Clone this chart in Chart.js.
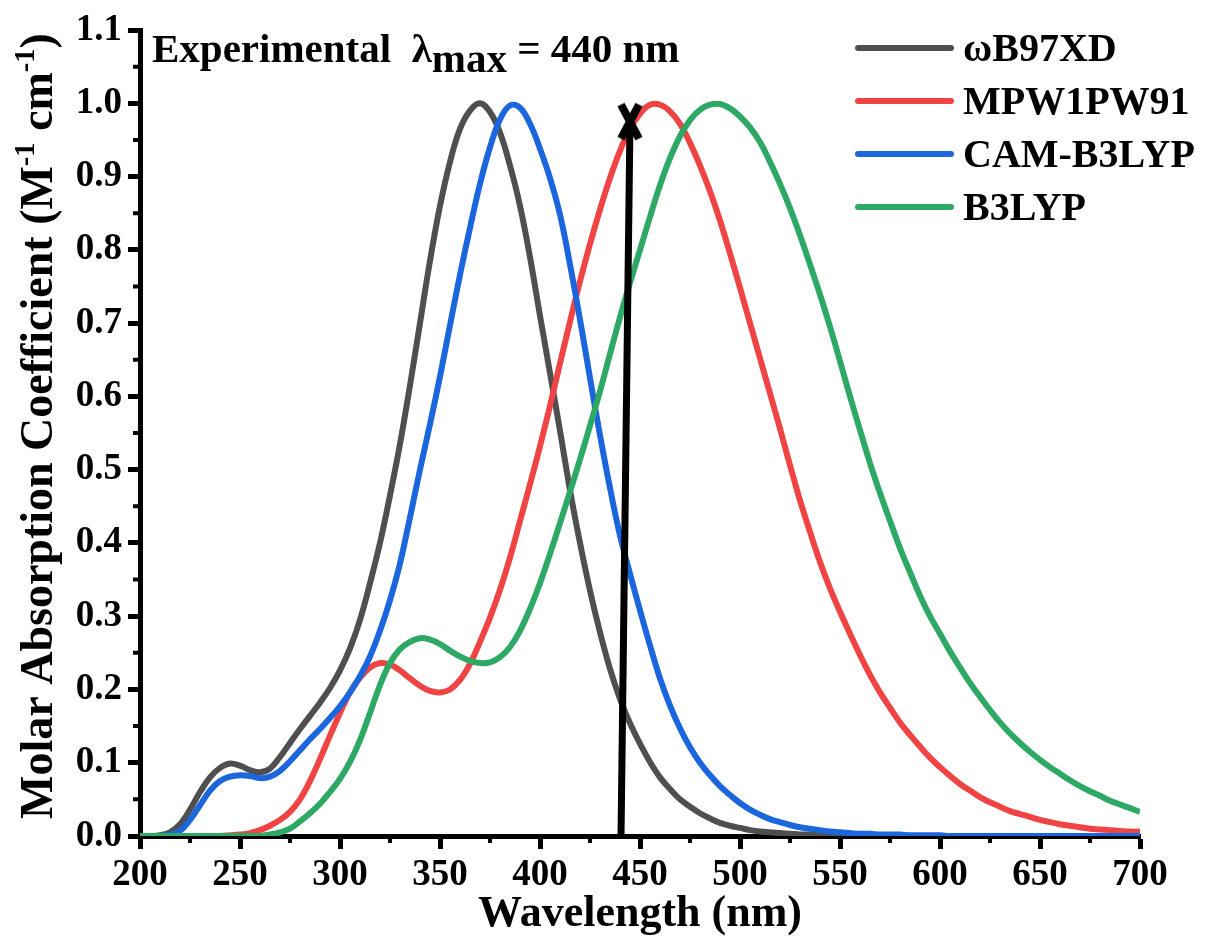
<!DOCTYPE html>
<html lang="en">
  <head>
    <meta charset="UTF-8" />
    <title>Absorption spectra</title>
    <script src="https://cdn.jsdelivr.net/npm/chart.js"></script>
    <style>
      body { margin: 0; background: #fff; }
    </style>
  </head>
  <body>
    <canvas id="spectra" width="1212" height="938"></canvas>

    <script>
      // wavelengths (nm), 5 nm steps
      const wavelengths = [
        200, 205, 210, 215, 220, 225, 230, 235, 240, 245,
        250, 255, 260, 265, 270, 275, 280, 285, 290, 295,
        300, 305, 310, 315, 320, 325, 330, 335, 340, 345,
        350, 355, 360, 365, 370, 375, 380, 385, 390, 395,
        400, 405, 410, 415, 420, 425, 430, 435, 440, 445,
        450, 455, 460, 465, 470, 475, 480, 485, 490, 495,
        500, 505, 510, 515, 520, 525, 530, 535, 540, 545,
        550, 555, 560, 565, 570, 575, 580, 585, 590, 595,
        600, 605, 610, 615, 620, 625, 630, 635, 640, 645,
        650, 655, 660, 665, 670, 675, 680, 685, 690, 695,
        700
      ];

      const wb97xd = [
        0, 0, 0.001, 0.005, 0.016, 0.036, 0.06, 0.08, 0.093, 0.099,
        0.096, 0.09, 0.087, 0.092, 0.108, 0.127, 0.146, 0.164, 0.182, 0.202,
        0.226, 0.256, 0.295, 0.345, 0.4, 0.465, 0.535, 0.615, 0.7, 0.785,
        0.86, 0.92, 0.965, 0.99, 1.0, 0.988, 0.96, 0.915, 0.86, 0.79,
        0.71, 0.632, 0.553, 0.472, 0.4, 0.335, 0.278, 0.228, 0.187, 0.154,
        0.126, 0.101, 0.08, 0.064, 0.05, 0.04, 0.031, 0.024, 0.018, 0.014,
        0.011, 0.008, 0.006, 0.005, 0.004, 0.003, 0.002, 0.002, 0.001, 0.001,
        0.001, 0, 0, 0, 0, 0, 0, 0, 0, 0,
        0, 0, 0, 0, 0, 0, 0, 0, 0, 0,
        0, 0, 0, 0, 0, 0, 0, 0, 0, 0,
        0
      ];

      const mpw1pw91 = [
        0, 0, 0, 0, 0, 0, 0, 0, 0, 0.001,
        0.002, 0.004, 0.008, 0.014, 0.022, 0.033, 0.05, 0.075, 0.105, 0.137,
        0.168, 0.196, 0.216, 0.23, 0.236, 0.234, 0.226, 0.215, 0.205, 0.198,
        0.196, 0.2, 0.213, 0.235, 0.265, 0.298, 0.336, 0.38, 0.43, 0.48,
        0.532, 0.587, 0.645, 0.702, 0.757, 0.808, 0.855, 0.898, 0.935, 0.965,
        0.986, 0.998, 0.998, 0.989, 0.972, 0.946, 0.915, 0.88, 0.84, 0.795,
        0.748, 0.7, 0.652, 0.604, 0.556, 0.506, 0.458, 0.415, 0.374, 0.338,
        0.306, 0.276, 0.247, 0.22, 0.196, 0.175, 0.155, 0.138, 0.122, 0.107,
        0.094, 0.082, 0.071, 0.062, 0.053, 0.046, 0.04, 0.034, 0.03, 0.026,
        0.022, 0.019, 0.016, 0.014, 0.012, 0.01, 0.009, 0.008, 0.007, 0.006,
        0.006
      ];

      const camB3lyp = [
        0, 0, 0, 0.002, 0.007, 0.022, 0.042, 0.062, 0.075, 0.081,
        0.083, 0.082, 0.079, 0.081, 0.089, 0.102, 0.117, 0.132, 0.146, 0.161,
        0.177, 0.196, 0.218, 0.245, 0.28, 0.322, 0.372, 0.435, 0.5, 0.562,
        0.627, 0.697, 0.766, 0.83, 0.89, 0.94, 0.978, 0.997, 0.994, 0.972,
        0.938, 0.898, 0.848, 0.78, 0.705, 0.625, 0.547, 0.475, 0.41, 0.358,
        0.308, 0.26, 0.215, 0.178, 0.147, 0.121, 0.1, 0.083, 0.068, 0.056,
        0.045, 0.036, 0.029, 0.023, 0.019, 0.015, 0.012, 0.01, 0.008, 0.006,
        0.005, 0.004, 0.003, 0.003, 0.002, 0.002, 0.002, 0.001, 0.001, 0.001,
        0.001, 0, 0, 0, 0, 0, 0, 0, 0, 0,
        0, 0, 0, 0, 0, 0, 0, 0, 0, 0,
        0
      ];

      const b3lyp = [
        0, 0, 0, 0, 0, 0, 0, 0, 0, 0,
        0, 0, 0, 0.002, 0.005, 0.01, 0.02, 0.031, 0.044, 0.06,
        0.078, 0.101, 0.131, 0.168, 0.206, 0.236, 0.255, 0.265, 0.27, 0.268,
        0.262, 0.253, 0.245, 0.239, 0.236, 0.237, 0.244, 0.258, 0.28, 0.31,
        0.345, 0.385, 0.427, 0.47, 0.514, 0.56, 0.607, 0.658, 0.708, 0.755,
        0.8, 0.845, 0.888, 0.925, 0.955, 0.977, 0.991, 0.998, 0.999, 0.993,
        0.982, 0.967, 0.947, 0.92, 0.89, 0.857, 0.82, 0.78, 0.739, 0.695,
        0.648, 0.6, 0.554, 0.509, 0.468, 0.43, 0.393, 0.36, 0.328, 0.3,
        0.276, 0.252, 0.23, 0.209, 0.19, 0.172, 0.155, 0.14, 0.127, 0.115,
        0.104, 0.094, 0.085, 0.076, 0.068, 0.061, 0.055, 0.048, 0.043, 0.038,
        0.033
      ];

      // experimental lambda max marker (hand-drawn arrow in the original)
      const arrowX = [440.5, 445];
      const arrowY = [0, 0.975];

      const seriesNames = ["\u03C9B97XD", "MPW1PW91", "CAM-B3LYP", "B3LYP"];
      const seriesColors = ["#4f4f4f", "#f04343", "#1b66dc", "#2ea865"];
      const seriesValues = [wb97xd, mpw1pw91, camB3lyp, b3lyp];

      // minor tick positions
      const xMinorTicks = [225, 275, 325, 375, 425, 475, 525, 575, 625, 675];
      const yMinorTicks = [0.05, 0.15, 0.25, 0.35, 0.45, 0.55, 0.65, 0.75, 0.85, 0.95, 1.05];

      const serif = "'Liberation Serif', 'Times New Roman', serif";

      function toPoints(xs, ys) {
        return xs.map(function (x, i) {
          return { x: x, y: ys[i] };
        });
      }

      // the "X" head of the arrow
      function makeCrossMark() {
        const c = document.createElement("canvas");
        c.width = 28;
        c.height = 40;
        const g = c.getContext("2d");
        g.strokeStyle = "#000";
        g.lineWidth = 8;
        g.beginPath();
        g.moveTo(5, 3);
        g.lineTo(23, 37);
        g.moveTo(23, 3);
        g.lineTo(5, 37);
        g.stroke();
        return c;
      }
      const crossMark = makeCrossMark();

      const datasets = seriesNames.map(function (name, i) {
        return {
          label: name,
          data: toPoints(wavelengths, seriesValues[i]),
          borderColor: seriesColors[i],
          borderWidth: 6,
          pointRadius: 0,
          tension: 0.4,
          fill: false,
          order: 4 - i,
        };
      });

      datasets.push({
        label: "arrow",
        skipLegend: true,
        data: toPoints(arrowX, arrowY),
        borderColor: "#000",
        borderWidth: 7,
        tension: 0,
        pointRadius: [0, 12],
        pointStyle: function (ctx) {
          return ctx.dataIndex === 1 ? crossMark : "circle";
        },
        order: 0,
      });

      // short minor ticks (Chart.js only draws one tick length)
      const minorTicksPlugin = {
        id: "minorTicks",
        afterDraw(chart) {
          const { ctx, chartArea, scales } = chart;
          ctx.save();
          ctx.strokeStyle = "#000";
          ctx.lineWidth = 4;
          ctx.beginPath();
          xMinorTicks.forEach(function (v) {
            const px = scales.x.getPixelForValue(v);
            ctx.moveTo(px, chartArea.bottom);
            ctx.lineTo(px, chartArea.bottom + 7);
          });
          yMinorTicks.forEach(function (v) {
            const py = scales.y.getPixelForValue(v);
            ctx.moveTo(chartArea.left - 7, py);
            ctx.lineTo(chartArea.left, py);
          });
          ctx.stroke();
          ctx.restore();
        },
      };

      // draws a run of text pieces, some as super/subscripts
      function drawRuns(ctx, runs, x, y, size) {
        runs.forEach(function (r) {
          const s = size * (r.scale || 1);
          ctx.font = "bold " + s + "px " + serif;
          ctx.fillText(r.text, x, y + (r.shift || 0) * size);
          x += ctx.measureText(r.text).width;
        });
      }

      function runsWidth(ctx, runs, size) {
        let w = 0;
        runs.forEach(function (r) {
          const s = size * (r.scale || 1);
          ctx.font = "bold " + s + "px " + serif;
          w += ctx.measureText(r.text).width;
        });
        return w;
      }

      // axis titles, annotation and legend
      const textPlugin = {
        id: "texts",
        afterDraw(chart) {
          const { ctx, chartArea } = chart;
          ctx.save();
          ctx.fillStyle = "#000";
          ctx.textBaseline = "alphabetic";
          ctx.textAlign = "left";

          // x title
          ctx.font = "bold 44px " + serif;
          ctx.textAlign = "center";
          ctx.fillText("Wavelength (nm)", (chartArea.left + chartArea.right) / 2, 926);
          ctx.textAlign = "left";

          // y title with superscripts
          const yTitle = [
            { text: "Molar Absorption Coefficient (M" },
            { text: "-1", shift: -0.4, scale: 0.62 },
            { text: " cm" },
            { text: "-1", shift: -0.4, scale: 0.62 },
            { text: ")" },
          ];
          const ySize = 46;
          ctx.save();
          ctx.translate(52, 426);
          ctx.rotate(-Math.PI / 2);
          const w = runsWidth(ctx, yTitle, ySize);
          drawRuns(ctx, yTitle, -w / 2, 0, ySize);
          ctx.restore();

          // annotation, subscript kept near full size like the original
          drawRuns(
            ctx,
            [
              { text: "Experimental  \u03BB" },
              { text: "max", shift: 0.24 },
              { text: " = 440 nm" },
            ],
            152,
            62,
            41
          );

          // legend
          const rowY = [48, 101, 154, 207];
          let row = 0;
          chart.data.datasets.forEach(function (ds) {
            if (ds.skipLegend) return;
            const y = rowY[row++];
            ctx.strokeStyle = ds.borderColor;
            ctx.lineWidth = 6;
            ctx.lineCap = "round";
            ctx.beginPath();
            ctx.moveTo(858, y);
            ctx.lineTo(951, y);
            ctx.stroke();
            ctx.font = "bold 40px " + serif;
            ctx.textBaseline = "middle";
            ctx.fillText(ds.label, 963, y + 3);
          });
          ctx.restore();
        },
      };

      const tickFont = { family: serif, size: 37, weight: "bold" };

      new Chart(document.getElementById("spectra"), {
        type: "line",
        data: { datasets: datasets },
        options: {
          responsive: false,
          animation: false,
          layout: { padding: { left: 0, top: 30, right: 72, bottom: 0 } },
          plugins: {
            legend: { display: false },
            tooltip: { enabled: false },
          },
          scales: {
            x: {
              type: "linear",
              min: 200,
              max: 700,
              afterFit: function (scale) {
                scale.height = 102;
              },
              ticks: {
                stepSize: 50,
                color: "#000",
                font: tickFont,
                padding: 4,
                maxRotation: 0,
              },
              grid: {
                drawOnChartArea: false,
                drawTicks: true,
                tickLength: 13,
                tickWidth: 5,
                tickColor: "#000",
              },
              border: { display: true, color: "#000", width: 5 },
            },
            y: {
              min: 0,
              max: 1.1,
              afterFit: function (scale) {
                scale.width = 140;
              },
              ticks: {
                stepSize: 0.1,
                color: "#000",
                font: tickFont,
                padding: 6,
                callback: function (v) {
                  return v.toFixed(1);
                },
              },
              grid: {
                drawOnChartArea: false,
                drawTicks: true,
                tickLength: 12,
                tickWidth: 5,
                tickColor: "#000",
              },
              border: { display: true, color: "#000", width: 5 },
            },
          },
        },
        plugins: [minorTicksPlugin, textPlugin],
      });
    </script>
  </body>
</html>
